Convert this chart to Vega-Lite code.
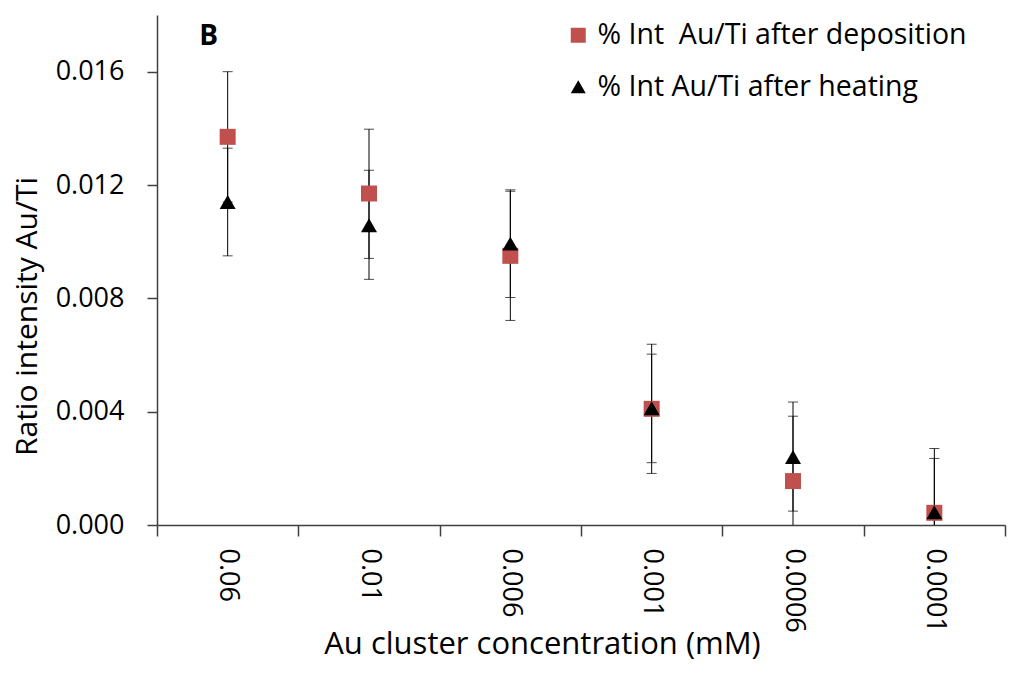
{
  "$schema": "https://vega.github.io/schema/vega-lite/v6.json",
  "autosize": {"type": "none"},
  "width": 848,
  "height": 510,
  "padding": {"left": 157, "top": 15, "right": 4, "bottom": 150},
  "background": "white",
  "config": {
    "view": {"stroke": null},
    "font": "Open Sans",
    "axis": {"labelFont": "Open Sans", "titleFont": "Open Sans", "labelColor": "#000", "titleColor": "#000", "domainColor": "#404040", "tickColor": "#404040", "domainWidth": 1.5, "tickWidth": 1.5, "grid": false}
  },
  "datasets": {
    "pts": [
      {"conc": "0.06", "series": "% Int \u00a0Au/Ti after deposition", "ratio": 0.0137, "lo": 0.0114, "hi": 0.016},
      {"conc": "0.01", "series": "% Int \u00a0Au/Ti after deposition", "ratio": 0.0117, "lo": 0.00941, "hi": 0.01397},
      {"conc": "0.006", "series": "% Int \u00a0Au/Ti after deposition", "ratio": 0.0095, "lo": 0.00722, "hi": 0.01178},
      {"conc": "0.001", "series": "% Int \u00a0Au/Ti after deposition", "ratio": 0.0041, "lo": 0.00182, "hi": 0.00638},
      {"conc": "0.0006", "series": "% Int \u00a0Au/Ti after deposition", "ratio": 0.00155, "lo": -0.00073, "hi": 0.00384},
      {"conc": "0.0001", "series": "% Int \u00a0Au/Ti after deposition", "ratio": 0.00043, "lo": -0.00185, "hi": 0.0027},
      {"conc": "0.06", "series": "% Int Au/Ti after heating", "ratio": 0.0114, "lo": 0.0095, "hi": 0.0133},
      {"conc": "0.01", "series": "% Int Au/Ti after heating", "ratio": 0.01058, "lo": 0.00867, "hi": 0.01252},
      {"conc": "0.006", "series": "% Int Au/Ti after heating", "ratio": 0.00993, "lo": 0.00803, "hi": 0.01183},
      {"conc": "0.001", "series": "% Int Au/Ti after heating", "ratio": 0.00412, "lo": 0.0022, "hi": 0.00603},
      {"conc": "0.0006", "series": "% Int Au/Ti after heating", "ratio": 0.0024, "lo": 0.00049, "hi": 0.00434},
      {"conc": "0.0001", "series": "% Int Au/Ti after heating", "ratio": 0.00045, "lo": -0.00145, "hi": 0.00235}
    ],
    "panel": [{"conc": "0.06", "y": 0.01695, "label": "B"}]
  },
  "encoding": {
    "x": {
      "field": "conc", "type": "nominal", "sort": ["0.06", "0.01", "0.006", "0.001", "0.0006", "0.0001"],
      "scale": {"type": "band", "paddingInner": 0, "paddingOuter": 0},
      "axis": {
        "title": "Au cluster concentration (mM)", "tickBand": "extent", "tickSize": 11,
        "labelAngle": 90, "labelAlign": "left", "labelBaseline": "middle", "labelFontSize": 27, "labelPadding": 12,
        "titleFontSize": 31, "titleFontWeight": "normal", "titleX": 385, "titleY": 128, "titleAlign": "center", "titleBaseline": "alphabetic"
      }
    }
  },
  "layer": [
    {
      "data": {"name": "pts"},
      "mark": {"type": "rule", "color": "#000", "strokeWidth": 1, "clip": true},
      "encoding": {
        "y": {"field": "lo", "type": "quantitative", "scale": {"domain": [0, 0.018], "nice": false, "zero": false},
          "axis": {"title": "Ratio intensity Au/Ti", "values": [0, 0.004, 0.008, 0.012, 0.016], "format": ".3f", "tickSize": 10,
            "labelFontSize": 27, "labelPadding": 23, "titleFontSize": 30, "titleFontWeight": "normal",
            "titleAngle": -90, "titleX": -121, "titleY": 301, "titleAlign": "center", "titleBaseline": "alphabetic"}},
        "y2": {"field": "hi"}
      }
    },
    {
      "data": {"name": "pts"},
      "mark": {"type": "tick", "color": "#000", "size": 10, "thickness": 1, "clip": true},
      "encoding": {"y": {"field": "lo", "type": "quantitative"}}
    },
    {
      "data": {"name": "pts"},
      "mark": {"type": "tick", "color": "#000", "size": 10, "thickness": 1, "clip": true},
      "encoding": {"y": {"field": "hi", "type": "quantitative"}}
    },
    {
      "data": {"name": "pts"},
      "mark": {"type": "point", "filled": true, "opacity": 1, "size": 256},
      "encoding": {
        "y": {"field": "ratio", "type": "quantitative"},
        "color": {"field": "series", "type": "nominal",
          "scale": {"domain": ["% Int \u00a0Au/Ti after deposition", "% Int Au/Ti after heating"], "range": ["#C0504D", "#000000"]},
          "legend": {"title": null, "orient": "none", "legendX": 407, "legendY": 6, "padding": 0,
            "labelFont": "Open Sans", "labelFontSize": 28.5, "labelColor": "#000", "labelOffset": 5, "symbolSize": 225,
            "rowPadding": 22.5, "symbolStrokeWidth": 0, "labelLimit": 600}},
        "shape": {"field": "series", "type": "nominal",
          "scale": {"domain": ["% Int \u00a0Au/Ti after deposition", "% Int Au/Ti after heating"], "range": ["square", "triangle-up"]}}
      }
    },
    {
      "data": {"name": "panel"},
      "mark": {"type": "text", "font": "Open Sans", "fontWeight": "bold", "fontSize": 28, "align": "center", "baseline": "alphabetic", "dx": -19, "color": "#000"},
      "encoding": {
        "y": {"field": "y", "type": "quantitative"},
        "text": {"field": "label"}
      }
    }
  ]
}
